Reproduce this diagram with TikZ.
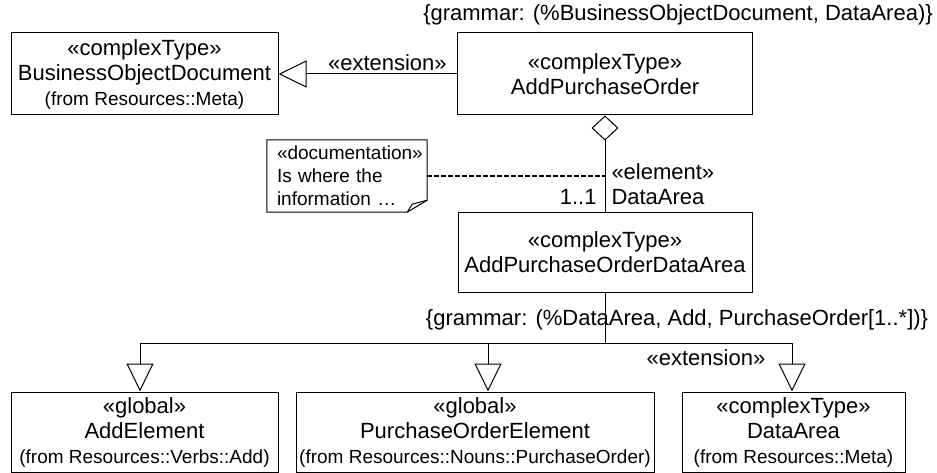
\documentclass[tikz,border=0pt]{standalone}
\usepackage{fontspec}
\setmainfont{Liberation Sans}
\usetikzlibrary{arrows.meta,calc}

\newcommand{\umlbig}{\fontsize{22}{25}\selectfont}
\newcommand{\umlsmall}{\fontsize{19}{23}\selectfont}

\tikzset{
  classbox/.style={draw, line width=1pt, align=center, inner sep=0pt, font=\umlbig},
  lbl/.style={font=\umlbig, inner sep=2pt},
  gen/.style={line width=1pt, -{Triangle[open, length=28pt, width=27pt]}},
  agg/.style={line width=1pt, {Diamond[open, length=25pt, width=27pt]}-},
  notelink/.style={line width=1.4pt, dash pattern=on 4.5pt off 2.5pt},
}

\begin{document}
\begin{tikzpicture}[x=1pt, y=-1pt]
  \useasboundingbox (0,0) rectangle (937,473);

  % Klassen oben
  \node[classbox, minimum width=267pt, minimum height=82pt] (bod) at (144.5,74)
    {«complexType»\\BusinessObjectDocument\\{\umlsmall (from Resources::Meta)}};
  \node[classbox, minimum width=295pt, minimum height=82pt] (apo) at (605,74)
    {«complexType»\\AddPurchaseOrder};
  \node[lbl] (gramtop) at (678,15) {\{grammar: (\%BusinessObjectDocument, DataArea)\}};

  % Mittlere Klasse
  \node[classbox, minimum width=294pt, minimum height=79pt] (apoda) at (605,252.5)
    {«complexType»\\AddPurchaseOrderDataArea};

  % Notiz
  \node[font=\umlsmall, align=left, text width=140pt, inner sep=0pt,
        minimum width=160pt, minimum height=72pt] (note) at (347,176)
    {«documentation»\\Is where the\\information …};
  \draw[line width=1pt] (note.north west) -- (note.north east)
    -- ($(note.south east)+(0,-12)$) -- ($(note.south east)+(-20,0)$)
    -- (note.south west) -- cycle;
  \draw[line width=1pt] ($(note.south east)+(-20,0)$) -- ($(note.south east)+(-15,-8)$)
    -- ($(note.south east)+(0,-12)$);

  % Untere Klassen
  \node[classbox, minimum width=267pt, minimum height=80pt] (addel) at (144.5,432)
    {«global»\\AddElement\\{\umlsmall (from Resources::Verbs::Add)}};
  \node[classbox, minimum width=358pt, minimum height=80pt] (poel) at (475,432)
    {«global»\\PurchaseOrderElement\\{\umlsmall (from Resources::Nouns::PurchaseOrder)}};
  \node[classbox, minimum width=223pt, minimum height=80pt] (darea) at (793.5,432)
    {«complexType»\\DataArea\\{\umlsmall (from Resources::Meta)}};

  % Verbindungen
  \draw[gen] (apo.west) -- node[lbl, pos=0.39, above=1pt] {«extension»} (bod.east);

  \coordinate (elem) at (605,176);
  \draw[agg] (apo.south)
    -- node[lbl, pos=0.71, right=4pt, align=left] {«element»\\DataArea}
       node[lbl, pos=0.84, left=6pt] {1..1}
    (apoda.north);
  \draw[notelink] (note.east) -- (elem);

  % Generalisierung
  \coordinate (split) at (605,343);
  \draw[line width=1pt] (apoda.south) -- (split);
  \draw[gen] (split) -| ([xshift=-4.5pt]addel.north);
  \draw[gen] (split) -| ([xshift=13pt]poel.north);
  \draw[gen] (split) -| node[lbl, pos=0.27, below=4pt] {«extension»} ([xshift=-1.5pt]darea.north);
  \node[lbl] (gramlow) at (677,320) {\{grammar: (\%DataArea, Add, PurchaseOrder[1..*])\}};
\end{tikzpicture}
\end{document}
